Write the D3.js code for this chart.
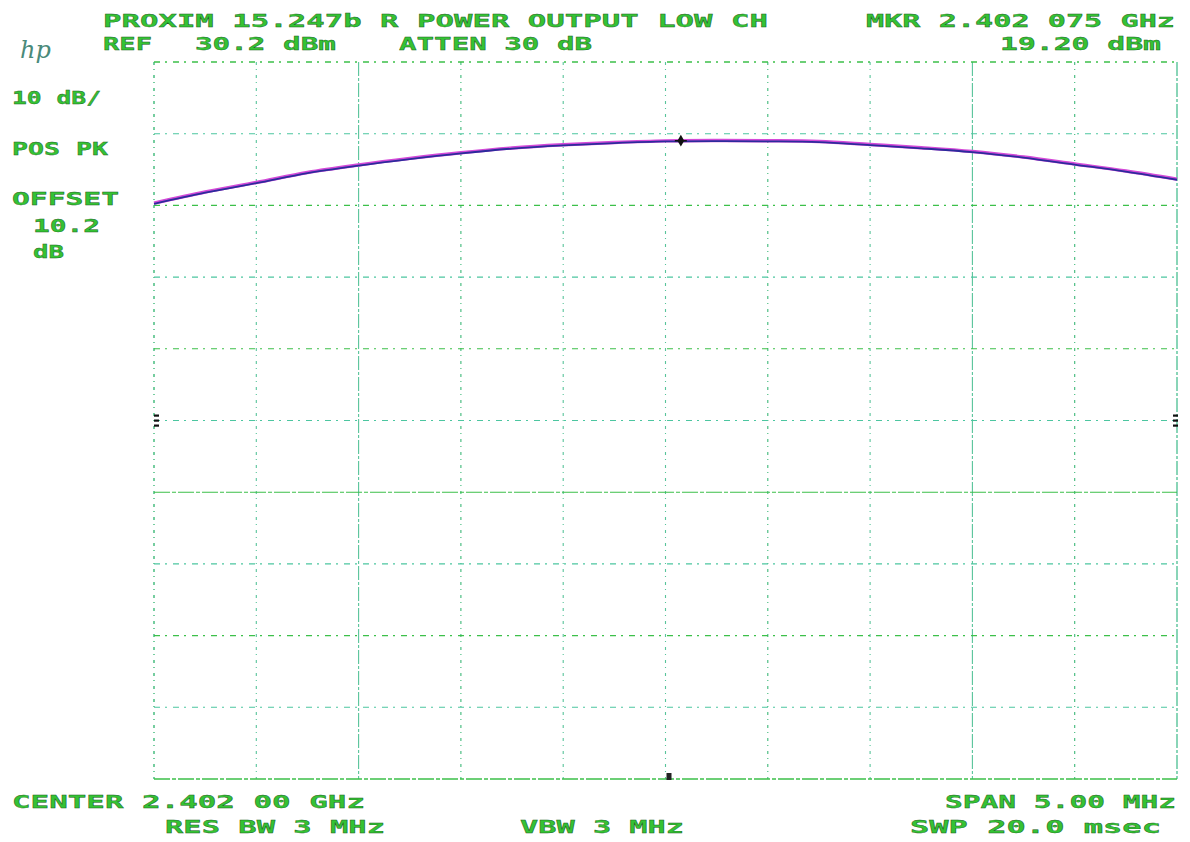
<!DOCTYPE html>
<html>
<head>
<meta charset="utf-8">
<script src="https://cdn.jsdelivr.net/npm/d3@7"></script>
<style>
  html, body { margin: 0; padding: 0; background: #ffffff; }
  svg { display: block; }
  .lbl { font-family: "DejaVu Sans Mono", monospace; font-weight: bold; font-size: 17px; fill: #34c234; stroke: #1e5e1e; stroke-width: 0.35px; }
</style>
</head>
<body>
<svg id="chart" width="1190" height="842"></svg>
<script>
// ---- data ----
const refLevel = 30.2;          // dBm (top graticule)
const dbPerDiv = 10;
const centerMHz = 2402.0;
const spanMHz = 5.0;
const markerMHz = 2402.075;
const markerDbm = 19.22;

const traceFreqMHz = [2399.50, 2399.75, 2400.00, 2400.25, 2400.50, 2400.75, 2401.00,
                      2401.25, 2401.50, 2401.75, 2402.00, 2402.25, 2402.50, 2402.75,
                      2403.00, 2403.25, 2403.50, 2403.75, 2404.00, 2404.25, 2404.50];
const traceDbm = [10.51, 12.07, 13.39, 14.79, 15.84, 16.75, 17.55,
                  18.21, 18.65, 18.97, 19.20, 19.25, 19.22, 19.11,
                  18.69, 18.25, 17.72, 16.95, 15.98, 15.00, 13.86];

const topLines = [
  {t: "PROXIM 15.247b R POWER OUTPUT LOW CH", x0: 103, x1: 768, y: 27},
  {t: "MKR 2.402 075 GHz", x0: 866, x1: 1175, y: 27},
  {t: "REF", x0: 103, x1: 152, y: 50},
  {t: "30.2 dBm", x0: 195, x1: 336, y: 50},
  {t: "ATTEN 30 dB", x0: 399, x1: 592, y: 50},
  {t: "19.20 dBm", x0: 1000, x1: 1161, y: 50}
];
const sideLines = [
  {t: "10 dB/", x0: 12, x1: 101, y: 104},
  {t: "POS PK", x0: 12, x1: 108, y: 155},
  {t: "OFFSET", x0: 12, x1: 119, y: 205},
  {t: "10.2", x0: 33, x1: 100, y: 232},
  {t: "dB", x0: 33, x1: 64, y: 258}
];
const bottomLines = [
  {t: "CENTER 2.402 00 GHz", x0: 12, x1: 365, y: 808},
  {t: "SPAN 5.00 MHz", x0: 945, x1: 1176, y: 808},
  {t: "RES BW 3 MHz", x0: 165, x1: 385, y: 833},
  {t: "VBW 3 MHz", x0: 520, x1: 684, y: 833},
  {t: "SWP 20.0 msec", x0: 910, x1: 1161, y: 833}
];

// ---- layout ----
const L = 154, R = 1177, T = 62, B = 779;
const svg = d3.select("#chart");

const x = d3.scaleLinear().domain([centerMHz - spanMHz/2, centerMHz + spanMHz/2]).range([L, R]);
const y = d3.scaleLinear().domain([refLevel - 10*dbPerDiv, refLevel]).range([B, T]);

const xGrid = d3.range(0, 11).map(i => x.domain()[0] + i * spanMHz / 10);
const yGrid = d3.range(0, 11).map(i => refLevel - i * dbPerDiv);

const g = svg.append("g");
// vertical grid
g.selectAll("line.vg").data(xGrid).join("line")
  .attr("class", "vg")
  .attr("x1", d => x(d)).attr("x2", d => x(d))
  .attr("y1", T).attr("y2", B)
  .attr("stroke", (d, i) => (i % 3 === 0 ? "#3cb878" : "#58c49a"))
  .attr("stroke-width", (d, i) => (i === 0 || i === 10) ? 1.4 : 1.1)
  .attr("stroke-dasharray", (d, i) => (i === 2 || i === 8 || i === 10) ? "14,2,3,2" : "3,4,1,5");
// horizontal grid
g.selectAll("line.hg").data(yGrid).join("line")
  .attr("class", "hg")
  .attr("x1", L).attr("x2", R)
  .attr("y1", d => y(d)).attr("y2", d => y(d))
  .attr("stroke", (d, i) => (i % 2 === 0 ? "#3cc04a" : "#4cc6a0"))
  .attr("stroke-width", (d, i) => (i === 0 || i === 10) ? 1.4 : 1.1)
  .attr("stroke-dasharray", (d, i) => (i === 6 || i === 10) ? "16,2,4,2" : "6,5,2,6");

// reference marks at center line edges and bottom center
const midY = y(refLevel - 5*dbPerDiv);
[x.range()[0] + 2, x.range()[1] - 2].forEach(px => {
  [-5, 0, 5].forEach(o => {
    svg.append("rect").attr("x", px - 2).attr("y", midY + o - 1).attr("width", 5).attr("height", 2.2).attr("fill", "#111");
  });
});
svg.append("rect").attr("x", x(centerMHz) + 1).attr("y", B - 6).attr("width", 5).attr("height", 7).attr("fill", "#222");

// trace
const pts = traceFreqMHz.map((f, i) => [f, traceDbm[i]]);
const line = d3.line().x(d => x(d[0])).y(d => y(d[1])).curve(d3.curveCatmullRom);
svg.append("path").datum(pts).attr("d", line)
  .attr("fill", "none").attr("stroke", "#d44ad8").attr("stroke-width", 3.4);
svg.append("path").datum(pts).attr("d", line)
  .attr("fill", "none").attr("stroke", "#2c2c9c").attr("stroke-width", 1.8)
  .attr("transform", "translate(0,0.6)");

// marker
const mx = x(markerMHz), my = y(markerDbm);
svg.append("path").attr("d", d3.symbol(d3.symbolDiamond, 40)())
  .attr("transform", `translate(${mx},${my})`).attr("fill", "#111");
svg.append("line").attr("x1", mx - 6).attr("x2", mx + 6).attr("y1", my).attr("y2", my).attr("stroke", "#111").attr("stroke-width", 1.5);

// text
function drawText(arr) {
  svg.selectAll(null).data(arr).join("text")
    .attr("class", "lbl")
    .attr("x", d => d.x0).attr("y", d => d.y)
    .attr("textLength", d => d.x1 - d.x0)
    .attr("lengthAdjust", "spacingAndGlyphs")
    .style("white-space", "pre")
    .attr("xml:space", "preserve")
    .text(d => d.t);
}
drawText(topLines);
drawText(sideLines);
drawText(bottomLines);

// hp logo
svg.append("text").attr("x", 20).attr("y", 58)
  .attr("font-family", "DejaVu Serif, serif").attr("font-style", "italic")
  .attr("font-size", 24).attr("fill", "#4a8a7a").text("hp");
</script>
</body>
</html>
